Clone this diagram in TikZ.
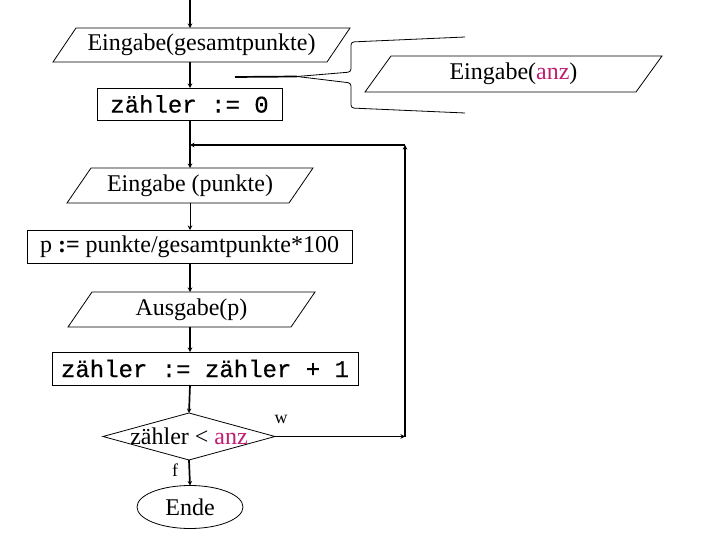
\documentclass[tikz,border=0pt]{standalone}
\usepackage{fontspec}
\setmainfont{Liberation Serif}
\newfontfamily\monof[FakeBold=0.4]{Liberation Mono}
\usetikzlibrary{arrows.meta,shapes.geometric}
\definecolor{anzc}{RGB}{190,30,115}
\newcommand\drawpara[2]{\draw[border] ([xshift=#2]#1.north west) -- (#1.north east) -- ([xshift=-#2]#1.south east) -- (#1.south west) -- cycle;}
\begin{document}
\begin{tikzpicture}[x=1pt,y=-1pt,
  every node/.style={font=\fontsize{24}{28}\selectfont, inner sep=0pt, outer sep=0pt},
  border/.style={line width=0.8pt},
  procbox/.style={draw, line width=0.8pt},
  monotext/.style={font=\fontsize{24}{28}\selectfont\monof},
  flow/.style={line width=1.7pt, -{Stealth[length=4.5pt,width=4.5pt]}},
  flowthin/.style={line width=0.9pt, -{Stealth[length=4.5pt,width=4.5pt]}},
  smalllabel/.style={font=\fontsize{18}{20}\selectfont}
]
\useasboundingbox (0,0) rectangle (720,540);
\fill[white] (0,0) rectangle (720,540);

% nodes
\node[minimum width=297, minimum height=34] (P1) at (201.5,45) {Eingabe(gesamtpunkte)};
\node[procbox, monotext, minimum width=185, minimum height=32] (R1) at (189.5,104) {zähler := 0};
\node[minimum width=297, minimum height=36] (P2) at (513.5,74) {Eingabe(\textcolor{anzc}{anz})};
\node[minimum width=246, minimum height=35] (P3) at (190,185.5) {Eingabe (punkte)};
\node[procbox, minimum width=325, minimum height=33] (R2) at (189.5,246.5) {p \textbf{:=} punkte/gesamtpunkte*100};
\node[minimum width=247, minimum height=35] (P4) at (191.5,309.5) {Ausgabe(p)};
\node[procbox, monotext, minimum width=306, minimum height=33] (R3) at (205,368.5) {zähler := zähler + 1};
\node[minimum width=172, minimum height=47] (D) at (189,436.5) {zähler < \textcolor{anzc}{anz}};
\node[draw, ellipse, line width=0.8pt, minimum width=106, minimum height=43] (E) at (190,507) {Ende};
\node[smalllabel] (w) at (281,419) {w};
\node[smalllabel] (f) at (175,470) {f};

% shape outlines
\drawpara{P1}{23}
\drawpara{P2}{26}
\drawpara{P3}{24}
\drawpara{P4}{24}
\draw[border] (D.north) -- (D.east) -- (D.south) -- (D.west) -- cycle;

% coordinates
\coordinate (start) at (190,0);
\coordinate (J) at (190,145);
\coordinate (C2) at (405,145);

% connectors
\draw[flow] (start) -- (start |- P1.north);
\draw[flow] (start |- P1.south) -- (start |- R1.north);
\draw[flow] (start |- R1.south) -- (start |- P3.north);
\draw[flowthin] (start |- P3.south) -- (start |- R2.north);
\draw[flow] (start |- R2.south) -- (start |- P4.north);
\draw[flow] (start |- P4.south) -- (start |- R3.north);
\draw[flow] (start |- R3.south) -- (D.north);
\draw[flow] (D.south) -- (E.north);
\draw[flow] (D.east) -- (D.east -| C2);
\draw[flow] (D.east -| C2) -- (C2);
\draw[flow] (C2) -- (J);

% comment bracket
\coordinate (bj) at (297,76.5);
\coordinate (bs) at (235,77);
\draw[line width=1.7pt] (bs) -- (bj);
\draw[border, rounded corners=3pt] (465,37) -- (351,42) -- (351,72) -- (bj);
\draw[border, rounded corners=3pt] (bj) -- (351,83) -- (351,108) -- (465,113);
\end{tikzpicture}
\end{document}
